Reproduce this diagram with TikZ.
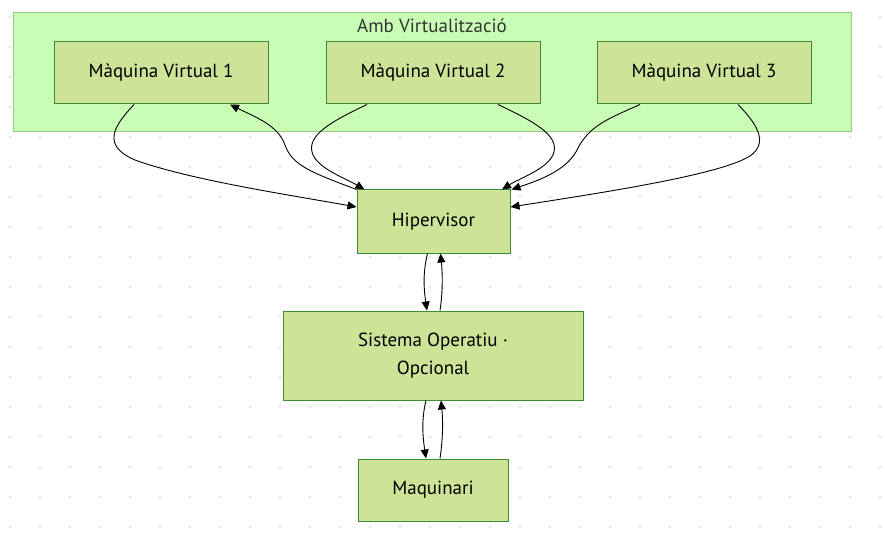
\documentclass[tikz,border=0pt]{standalone}
\usepackage{fontspec}
\setmainfont{PT Sans}
\usetikzlibrary{arrows.meta}
\definecolor{nodefill}{HTML}{CDE498}
\definecolor{nodeline}{HTML}{3F8A36}
\definecolor{clusterfill}{HTML}{C9FDB5}
\definecolor{clusterline}{HTML}{98CE84}
\definecolor{gridcol}{HTML}{E6E6E6}
\begin{document}
\begin{tikzpicture}[x=1pt,y=1pt,yscale=-1,
    block/.style={draw=nodeline,fill=nodefill,line width=1pt,inner sep=0pt,align=center,
      font=\fontsize{19}{28}\selectfont,minimum height=62},
    link/.style={line width=0.9pt,-{Triangle[length=9pt,width=8pt]}}]
                  % Background
                  \useasboundingbox (0,0) rectangle (885,537);
                  \foreach \i in {0,...,29}
                    \foreach \j in {0,...,17}
                      \fill[gridcol] (10+30*\i,17+30*\j) circle (1.6);
                  % Cluster
                  \draw [draw=clusterline,fill=clusterfill,line width=1pt] (13,13) rectangle (851,132);
                  \node (title) at (432,26) [inner sep=0pt,text=black!80,font=\fontsize{19}{22}\selectfont] {Amb Virtualització};
                  % Text Node
                  \node (mv1) at (161,73) [block,minimum width=214] {Màquina Virtual 1};
                  % Text Node
                  \node (mv2) at (433,73) [block,minimum width=214] {Màquina Virtual 2};
                  % Text Node
                  \node (mv3) at (704,73) [block,minimum width=214] {Màquina Virtual 3};
                  % Text Node
                  \node (hip) at (433.5,221.5) [block,minimum width=153,minimum height=63] {Hipervisor};
                  % Text Node
                  \node (so) at (433,355.5) [block,minimum width=300,minimum height=89] {Sistema Operatiu ·\\Opcional};
                  % Text Node
                  \node (maq) at (433,490) [block,minimum width=150] {Maquinari};
                  % Connection
                  \draw [link] ([xshift=-27]mv1.south) .. controls (115,125) and (100,145) .. (135,160) .. controls (190,180) and (290,195) .. ([yshift=-14.5]hip.west);
                  % Connection
                  \draw [link] (hip.north west) .. controls (310,172) and (292,165) .. (285,145) .. controls (278,125) and (255,117) .. ([xshift=69]mv1.south);
                  % Connection
                  \draw [link] ([xshift=-66]mv2.south) .. controls (330,122) and (308,135) .. (312,152) .. controls (316,168) and (345,178) .. ([xshift=-69]hip.north);
                  % Connection
                  \draw [link] ([xshift=65]mv2.south) .. controls (535,122) and (558,135) .. (554,152) .. controls (550,168) and (520,178) .. ([xshift=68.5]hip.north);
                  % Connection
                  \draw [link] ([xshift=-64]mv3.south) .. controls (610,118) and (590,125) .. (578,148) .. controls (568,170) and (540,180) .. ([xshift=1]hip.north east);
                  % Connection
                  \draw [link] ([xshift=34]mv3.south) .. controls (755,122) and (770,142) .. (750,156) .. controls (720,175) and (600,193) .. ([yshift=-14.5]hip.east);
                  % Connection
                  \draw [link] ([xshift=-6]hip.south) .. controls +(-5,20) and +(-3,-20) .. ([xshift=-6]so.north);
                  \draw [link] ([xshift=7]so.north) .. controls +(3,-20) and +(2,20) .. ([xshift=7]hip.south);
                  % Connection
                  \draw [link] ([xshift=-7]so.south) .. controls +(-5,20) and +(-3,-20) .. ([xshift=-7]maq.north);
                  \draw [link] ([xshift=7]maq.north) .. controls +(3,-20) and +(2,20) .. ([xshift=8]so.south);
\end{tikzpicture}
\end{document}
